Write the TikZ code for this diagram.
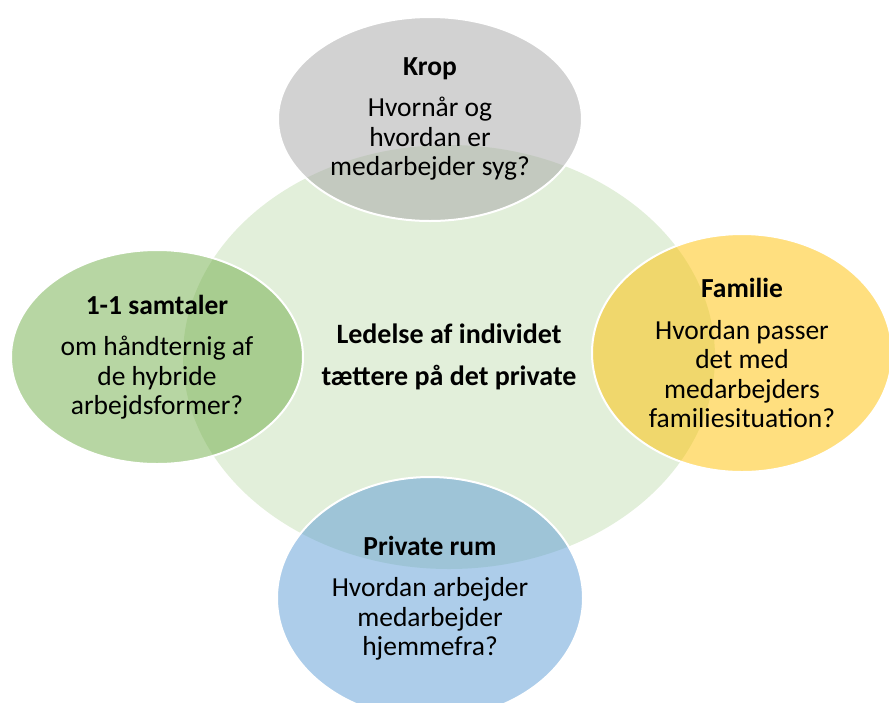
\documentclass[tikz,border=0pt]{standalone}
\usepackage{fontspec}
\setmainfont{Carlito}
\usetikzlibrary{shapes.geometric}

\definecolor{kropgrey}{HTML}{A5A5A5}
\definecolor{familieyellow}{HTML}{FFC000}
\definecolor{rumblue}{HTML}{5B9BD5}
\definecolor{samtalegreen}{HTML}{70AD47}
\definecolor{centregreen}{HTML}{E2EFDA}

\tikzset{
  topic/.style={ellipse, draw=white, line width=2pt, fill opacity=0.5,
    text opacity=1, inner sep=0pt, align=center,
    font=\fontsize{27.5}{29.5}\selectfont},
  hub/.style={ellipse, fill=centregreen, inner sep=0pt, align=center,
    font=\bfseries\fontsize{28}{42}\selectfont},
}

\begin{document}
\begin{tikzpicture}[x=1pt, y=-1pt]
  \useasboundingbox (0,0) rectangle (889,702);

  % Centre
  \node[hub, minimum width=532pt, minimum height=424pt] (centre) at (449,357)
    {Ledelse af individet\\tættere på det private};

  % Four topics round the centre
  \node[topic, fill=kropgrey, minimum width=304pt, minimum height=204pt] (krop) at (430,119)
    {\textbf{Krop}\\[12pt]Hvornår og\\hvordan er\\medarbejder syg?};
  \node[topic, fill=samtalegreen, minimum width=292pt, minimum height=214pt] (samtaler) at (157,357)
    {\textbf{1-1 samtaler}\\[12pt]om håndternig af\\de hybride\\arbejdsformer?};
  \node[topic, fill=familieyellow, minimum width=300pt, minimum height=238pt] (familie) at (742,353)
    {\textbf{Familie}\\[12pt]Hvordan passer\\det med\\medarbejders\\familiesituation?};
  \node[topic, fill=rumblue, minimum width=306pt, minimum height=242pt] (rum) at (430,598)
    {\textbf{Private rum}\\[12pt]Hvordan arbejder\\medarbejder\\hjemmefra?};
\end{tikzpicture}
\end{document}
